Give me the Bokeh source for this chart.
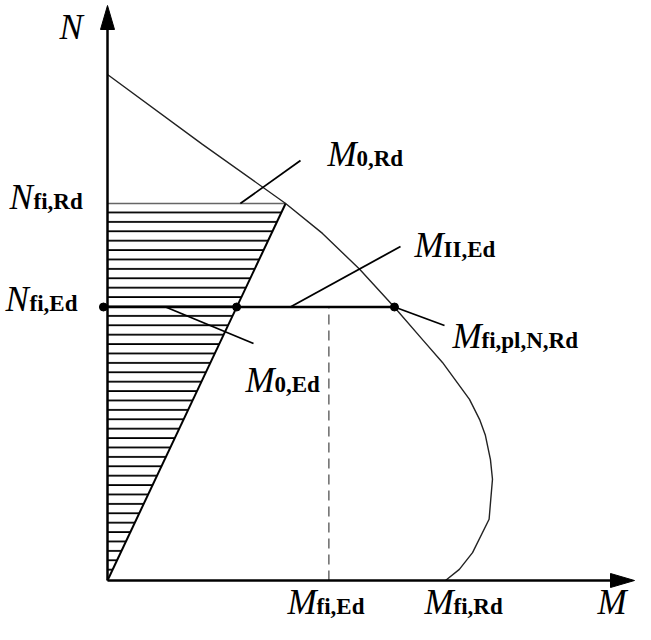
from bokeh.plotting import figure
from bokeh.models import Range1d
from bokeh.core.properties import value
from bokeh.embed import file_html
from bokeh.resources import INLINE

# ---- data (normalised: M / M_fi,Rd , N / N at M = 0) ----
curve_M = [0.0, 0.281, 0.527, 0.636, 0.746, 0.849, 0.932, 0.991, 1.071, 1.101,
           1.118, 1.133, 1.139, 1.134, 1.129, 1.080, 1.041, 1.0]
curve_N = [1.0, 0.862, 0.745, 0.686, 0.615, 0.540, 0.476, 0.431, 0.358, 0.318,
           0.287, 0.239, 0.200, 0.161, 0.121, 0.055, 0.022, 0.0]

N_fi_Rd = 0.745
M_0_Rd = 0.527
N_fi_Ed = 0.5405
M_0_Ed = 0.382
M_fi_Ed = 0.655
M_fi_pl_N_Rd = 0.849
M_fi_Rd = 1.0
M_left_dot = -0.012

main_letters = ["N", "N", "N", "M", "M", "M", "M", "M", "M", "M"]
subscripts = ["", "fi,Rd", "fi,Ed", "0,Rd", "II,Ed", "0,Ed", "fi,pl,N,Rd", "fi,Ed", "fi,Rd", ""]

# ---- layout: page pixels (canvas sits at 8,8 and is 635 x 624) ----
W, H = 635, 624
X0, Y0 = 115, 588          # origin in page pixels
SX, SY = 338.0, 506.0      # page pixels per unit


def at(px, py):
    """page pixel -> data coordinates"""
    return ((px - X0) / SX, (Y0 - py) / SY)


p = figure(width=W, height=H, output_backend="svg", toolbar_location=None,
           x_range=Range1d((8 - X0) / SX, (8 + W - X0) / SX),
           y_range=Range1d((Y0 - 8 - H) / SY, (Y0 - 8) / SY),
           min_border=0)
p.axis.visible = False
p.grid.visible = False
p.outline_line_color = None
p.background_fill_color = "white"

# hatched region
p.patch([0, 0, M_0_Rd], [0, N_fi_Rd, N_fi_Rd], fill_color=None, line_color=None,
        hatch_pattern="-", hatch_color="black", hatch_weight=1.8, hatch_scale=9.4)
p.line([0, M_0_Rd], [N_fi_Rd, N_fi_Rd], line_color="#666666", line_width=1.4)
p.line([0, M_0_Rd], [0, N_fi_Rd], line_color="black", line_width=2)

# interaction curve
p.line(curve_M, curve_N, line_color="#222222", line_width=1.4)

# dashed vertical at M_fi,Ed
p.line([M_fi_Ed, M_fi_Ed], [0, N_fi_Ed], line_color="#444444", line_width=1.2,
       line_dash="10 6")

# N_fi,Ed line
p.line([M_left_dot, M_fi_pl_N_Rd], [N_fi_Ed, N_fi_Ed], line_color="black", line_width=2.5)
p.scatter([M_left_dot, M_0_Ed, M_fi_pl_N_Rd], [N_fi_Ed] * 3, size=8, color="black")

# leader lines
ends = [at(308, 168), at(408, 254), at(261, 351), at(452, 333)]
starts = [(0.393, N_fi_Rd), (0.541, N_fi_Ed), (0.172, N_fi_Ed), (M_fi_pl_N_Rd, N_fi_Ed)]
p.segment([s[0] for s in starts], [s[1] for s in starts],
          [e[0] for e in ends], [e[1] for e in ends], line_color="black", line_width=1.8)

# axes with arrow heads
ytip = at(115, 13)
xtip = at(642, 588)
hl, hw = 24.0, 7.0
p.line([0, 0], [0, ytip[1] - hl / SY], line_color="black", line_width=2.5)
p.line([0, xtip[0] - hl / SX], [0, 0], line_color="black", line_width=2.5)
p.patch([0, -hw / SX, hw / SX], [ytip[1], ytip[1] - hl / SY, ytip[1] - hl / SY],
        color="black", line_width=1)
p.patch([xtip[0], xtip[0] - hl / SX, xtip[0] - hl / SX], [0, hw / SY, -hw / SY],
        color="black", line_width=1)

# labels
label_px = [(67, 35), (17, 205), (13, 307), (335, 162), (422, 253), (253, 388),
            (460, 344), (295, 610), (432, 610), (605, 610)]
lx = [at(*q)[0] for q in label_px]
ly = [at(*q)[1] for q in label_px]
p.text(lx, ly, text=main_letters, text_font=value("Liberation Serif"),
       text_font_style="italic", text_font_size="35px", text_baseline="alphabetic",
       text_align="left", text_color="black")
sub_dx = [24 if m == "N" else 29 for m in main_letters]
for x, y, s, dx in zip(lx, ly, subscripts, sub_dx):
    if s:
        p.text([x], [y], text=[s], x_offset=dx, y_offset=4,
               text_font=value("Liberation Serif"), text_font_style="bold",
               text_font_size="23px", text_baseline="alphabetic",
               text_align="left", text_color="black")

open("out.html", "w").write(file_html(p, INLINE))
